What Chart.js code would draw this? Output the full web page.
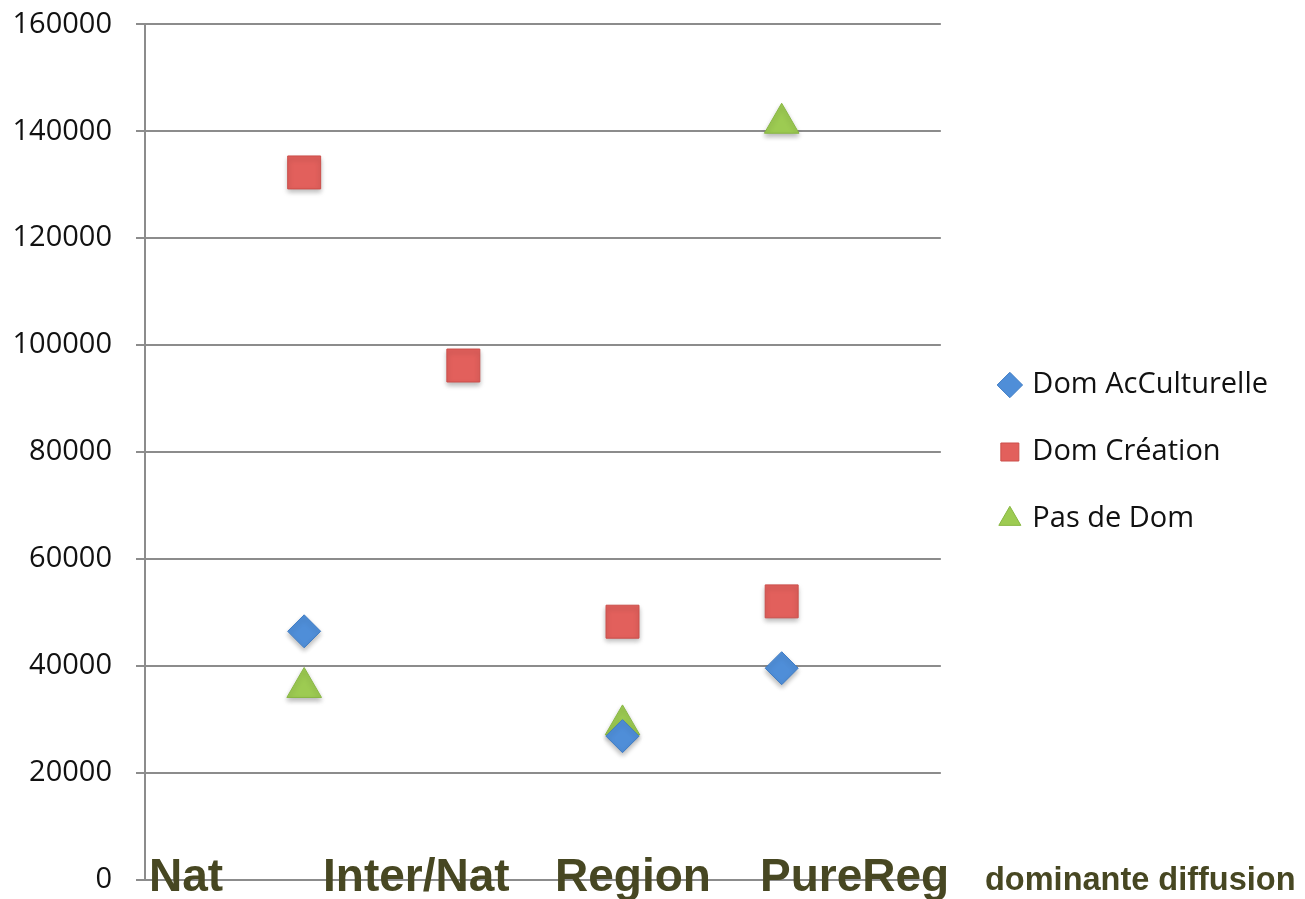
<!DOCTYPE html>
<html>
<head>
<meta charset="utf-8">
<script src="https://cdn.jsdelivr.net/npm/chart.js@4.4.1/dist/chart.umd.min.js"></script>
<style>
  html, body { margin: 0; padding: 0; background: #fff; }
  #wrap { position: relative; width: 1305px; height: 899px; }
  .cat { position: absolute; font-family: "Liberation Sans", Arial, sans-serif; font-weight: bold; color: #474722; line-height: 1; white-space: nowrap; }
</style>
</head>
<body>
<div id="wrap">
  <canvas id="chart" width="1305" height="899"></canvas>
  <div class="cat" style="left:149px; top:852px; font-size:46px;">Nat</div>
  <div class="cat" style="left:323px; top:852px; font-size:46px;">Inter/Nat</div>
  <div class="cat" style="left:555px; top:852px; font-size:46px;">Region</div>
  <div class="cat" style="left:760px; top:852px; font-size:46px;">PureReg</div>
  <div class="cat" style="left:985px; top:863px; font-size:32.5px;">dominante diffusion</div>
</div>
<script>
// x positions of the four groups (Nat, Inter/Nat, Region, PureReg)
const xPos = [1, 2, 3, 4];
const yTicks = [0, 20000, 40000, 60000, 80000, 100000, 120000, 140000, 160000];

// values (null = no point)
const domAcCulturelle = [46500, null, 26900, 39600];
const domCreation = [132300, 96200, 48300, 52100];
const pasDeDom = [36000, null, 29000, 141500];

const toPoints = (vals) => vals.map((v, i) => ({ x: xPos[i], y: v })).filter((p) => p.y !== null);

const noPad = (s) => {
  s.paddingTop = 0;
  s.paddingBottom = 0;
  s.paddingLeft = 0;
  s.paddingRight = 0;
};

// soft drop shadow under the markers
const shadow = {
  id: "shadow",
  beforeDatasetsDraw(chart) {
    const c = chart.ctx;
    c.save();
    c.shadowColor = "rgba(0,0,0,0.28)";
    c.shadowBlur = 5;
    c.shadowOffsetY = 3;
  },
  afterDatasetsDraw(chart) {
    chart.ctx.restore();
  },
};

// stretch the y axis down to the bottom padding line
const fitBottom = {
  id: "fitBottom",
  afterLayout(chart) {
    try {
      const y = chart.scales.y;
      const target = chart.height - chart.options.layout.padding.bottom;
      const diff = target - y.bottom;
      if (diff > 0 && diff < 15) {
        y.bottom = target;
        y.height = y.bottom - y.top;
        y.configure();
        chart.chartArea.bottom = target;
        chart.chartArea.height = target - chart.chartArea.top;
      }
    } catch (e) {}
  },
};

new Chart(document.getElementById("chart"), {
  type: "scatter",
  data: {
    datasets: [
      {
        label: "Dom AcCulturelle",
        data: toPoints(domAcCulturelle),
        pointStyle: "rectRot",
        pointRadius: 16.5,
        backgroundColor: "#4f8ed8",
        borderColor: "#3f7cc4",
        borderWidth: 1,
      },
      {
        label: "Dom Création",
        data: toPoints(domCreation),
        pointStyle: "rect",
        pointRadius: 23.3,
        backgroundColor: "#e2605c",
        borderColor: "#cc4e4a",
        borderWidth: 1,
      },
      {
        label: "Pas de Dom",
        data: toPoints(pasDeDom),
        pointStyle: "triangle",
        pointRadius: 20,
        backgroundColor: "#9dcb52",
        borderColor: "#88b743",
        borderWidth: 1,
      },
    ],
  },
  options: {
    responsive: false,
    animation: false,
    events: [],
    layout: { padding: { top: 24, bottom: 19, left: 0, right: 27 } },
    plugins: {
      tooltip: { enabled: false },
      legend: {
        position: "right",
        align: "center",
        maxWidth: 420,
        labels: {
          usePointStyle: true,
          boxWidth: 16,
          boxHeight: 18,
          padding: 38,
          color: "#111",
          font: { family: "Open Sans", size: 29 },
        },
      },
    },
    scales: {
      x: {
        type: "linear",
        min: 0,
        max: 5,
        display: false,
        afterFit: (s) => { s.height = 0; noPad(s); },
      },
      y: {
        min: 0,
        max: 160000,
        afterBuildTicks: (s) => { s.ticks = yTicks.map((v) => ({ value: v })); },
        afterFit: (s) => { s.width = 145; noPad(s); },
        grid: { color: "#8c8c8c", lineWidth: 2, tickLength: 9 },
        border: { color: "#8c8c8c", width: 2 },
        ticks: {
          padding: 24,
          color: "#111",
          font: { family: "Open Sans", size: 29 },
          callback: (v) => String(v),
        },
      },
      gap: {
        position: "right",
        min: 0,
        max: 1,
        grid: { display: false },
        border: { display: false },
        ticks: { display: false },
        afterFit: (s) => { s.width = 23; noPad(s); },
      },
    },
  },
  plugins: [shadow, fitBottom],
});
</script>
</body>
</html>
